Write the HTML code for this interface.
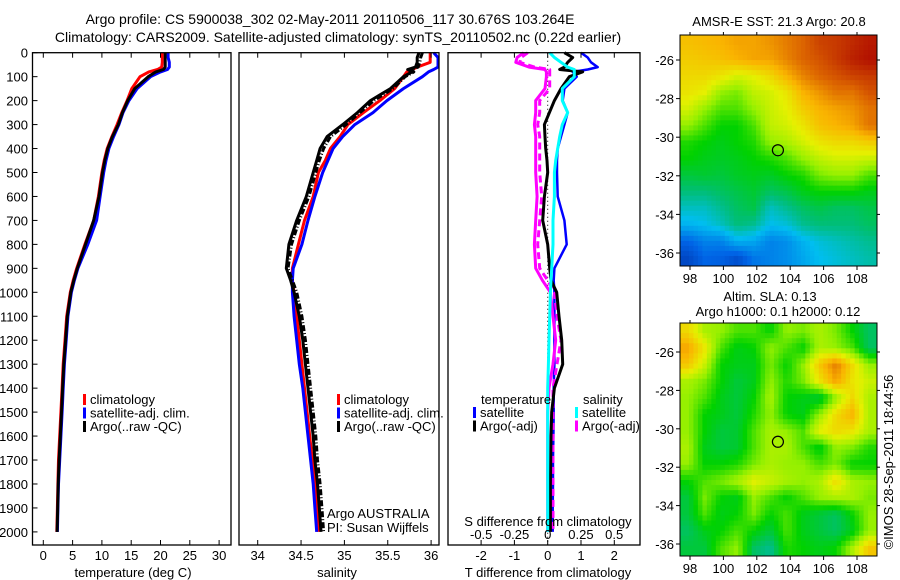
<!DOCTYPE html>
<html><head><meta charset="utf-8">
<style>
html,body{margin:0;padding:0;background:#fff;}
svg{display:block;font-family:"Liberation Sans",sans-serif;}
text{font-size:13px;fill:#000;}
</style></head>
<body>
<svg id="fig" width="900" height="580" viewBox="0 0 900 580" xmlns="http://www.w3.org/2000/svg">
<text x="330" y="24" text-anchor="middle" style="font-size:14px">Argo profile: CS 5900038_302 02-May-2011 20110506_117 30.676S 103.264E</text>
<text x="338" y="42" text-anchor="middle" style="font-size:14px">Climatology: CARS2009. Satellite-adjusted climatology: synTS_20110502.nc (0.22d earlier)</text>
<g id="p1"></g>
<g id="p2"></g>
<g id="p3"></g>
<g id="m1"></g>
<g id="m2"></g>
<text transform="translate(893,462) rotate(-90)" text-anchor="middle">©IMOS 28-Sep-2011 18:44:56</text>
</svg>
<script>
// ---------- data ----------
const depths = [0,20,40,60,70,80,100,150,200,250,300,350,400,450,500,600,700,800,900,950,1000,1100,1200,1300,1400,1500,1600,1700,1800,1900,2000];
const tempClim = [20.3,20.3,20.3,20.2,19.5,18,16.5,15.1,14.3,13.4,12.6,11.7,10.9,10.4,10.0,9.4,8.6,7.1,5.7,5.1,4.6,4.0,3.7,3.4,3.2,3.0,2.8,2.6,2.5,2.4,2.3];
const tempSat = [21.3,21.3,21.5,21.5,21.2,20,18.3,16,14.6,13.6,12.9,12.0,11.2,10.7,10.3,9.7,9.1,7.6,5.9,5.3,4.8,4.2,3.9,3.6,3.4,3.2,3.0,2.8,2.6,2.5,2.4];
const tempArgo = [20.8,20.8,20.8,20.8,20.5,19.2,17.9,15.6,14.4,13.5,12.8,11.8,11.0,10.5,10.1,9.5,8.6,7.2,5.8,5.2,4.7,4.1,3.8,3.5,3.3,3.1,2.9,2.7,2.55,2.45,2.35];
const salClim = [35.99,35.99,35.99,35.84,35.78,35.72,35.68,35.58,35.41,35.22,35.04,34.95,34.84,34.78,34.70,34.64,34.54,34.47,34.40,34.40,34.42,34.45,34.48,34.51,34.54,34.57,34.6,34.63,34.66,34.68,34.7];
const salSat = [36.03,36.08,36.08,36.08,36.03,35.97,35.9,35.68,35.49,35.33,35.12,34.98,34.87,34.81,34.75,34.66,34.58,34.51,34.41,34.40,34.40,34.42,34.45,34.48,34.52,34.55,34.58,34.61,34.64,34.66,34.68];
const salArgo = [35.86,35.84,35.84,35.82,35.73,35.78,35.68,35.53,35.3,35.15,34.98,34.8,34.72,34.68,34.64,34.56,34.45,34.36,34.33,34.38,34.42,34.48,34.52,34.55,34.58,34.61,34.64,34.66,34.69,34.71,34.73];
const salArgoRaw = [35.9,35.88,35.87,35.85,35.77,35.8,35.7,35.56,35.34,35.18,35.02,34.84,34.76,34.71,34.67,34.59,34.48,34.39,34.35,34.40,34.45,34.51,34.55,34.58,34.61,34.64,34.67,34.69,34.72,34.74,34.76];
const dTempSat = [1.0,1.2,1.3,1.5,1.2,0.75,0.87,0.5,0.45,0.6,0.5,0.4,0.3,0.28,0.28,0.3,0.5,0.57,0.2,0.18,0.2,0.2,0.2,0.2,0.18,0.18,0.17,0.16,0.16,0.15,0.15];
const dTempArgo = [0.5,0.75,0.6,0.5,0.36,1.05,0.65,0.4,0.2,0.05,-0.1,-0.08,-0.06,-0.02,0,-0.1,-0.15,0,0.06,0.1,0.27,0.34,0.42,0.45,0.2,0.12,0.1,0.09,0.08,0.08,0.08];
const dSalSat = [0.015,0.05,0.1,0.15,0.2,0.2,0.2,0.11,0.11,0.15,0.11,0.09,0.075,0.06,0.05,0.05,0.04,0.04,0.03,0.025,0.02,0.015,0.01,0.005,0,0,0,0,0,0,0];
const dSalArgo = [-0.15,-0.2,-0.21,-0.1,0.015,0.015,0.015,0.015,-0.06,-0.06,-0.075,-0.06,-0.06,-0.06,-0.06,-0.045,-0.06,-0.075,-0.06,0,0.05,0.07,0.1,0.07,0.04,0.04,0.04,0.04,0.04,0.04,0.04];
const dSalArgoRaw = [-0.18,-0.23,-0.24,-0.14,-0.02,-0.01,-0.01,-0.02,-0.09,-0.09,-0.1,-0.09,-0.09,-0.09,-0.09,-0.08,-0.09,-0.1,-0.09,-0.04,0.02,0.04,0.06,0.04,0.01,0,0,0,0,0,0];
const depthTicks = [0,100,200,300,400,500,600,700,800,900,1000,1100,1200,1300,1400,1500,1600,1700,1800,1900,2000];
const tempTicks = [0,5,10,15,20,25,30];
const salTicks = [34,34.5,35,35.5,36];
const dTempTicks = [-2,-1,0,1,2];
const dSalTicks = [-0.5,-0.25,0,0.25,0.5];
const dSalTickLabels = ['-0.5','-0.25','0','0.25','0.5'];
const lonTicks = [98,100,102,104,106,108];
const latTicks = [-26,-28,-30,-32,-34,-36];
const argoLon = 103.264, argoLat = -30.676;
// map fields (rows north->south, cols west->east), normalized colour values 0..1
const sstGrid = [
[0.76,0.77,0.78,0.8,0.8,0.82,0.85,0.88,0.92,0.93,0.95,0.97],
[0.74,0.75,0.76,0.78,0.8,0.8,0.84,0.88,0.9,0.93,0.96,0.98],
[0.72,0.72,0.7,0.66,0.68,0.72,0.78,0.84,0.88,0.9,0.92,0.93],
[0.7,0.68,0.6,0.58,0.64,0.66,0.7,0.78,0.82,0.86,0.86,0.9],
[0.66,0.6,0.55,0.55,0.6,0.65,0.68,0.74,0.78,0.8,0.82,0.86],
[0.6,0.55,0.5,0.5,0.55,0.64,0.66,0.7,0.76,0.78,0.8,0.86],
[0.52,0.5,0.48,0.5,0.52,0.6,0.62,0.66,0.7,0.72,0.72,0.74],
[0.5,0.48,0.47,0.48,0.5,0.52,0.55,0.6,0.64,0.66,0.66,0.65],
[0.45,0.46,0.45,0.47,0.48,0.47,0.5,0.52,0.58,0.6,0.6,0.55],
[0.4,0.4,0.42,0.44,0.46,0.42,0.44,0.48,0.5,0.5,0.5,0.48],
[0.34,0.34,0.38,0.42,0.44,0.34,0.38,0.42,0.44,0.42,0.42,0.44],
[0.28,0.3,0.34,0.4,0.38,0.3,0.32,0.38,0.4,0.4,0.4,0.42],
[0.15,0.2,0.2,0.28,0.26,0.2,0.22,0.28,0.32,0.34,0.36,0.38],
[0.08,0.15,0.14,0.1,0.18,0.2,0.22,0.26,0.3,0.32,0.34,0.36]];
const slaGrid = [
[0.72,0.62,0.6,0.55,0.55,0.5,0.6,0.58,0.62,0.58,0.5,0.42],
[0.8,0.7,0.55,0.48,0.5,0.6,0.55,0.5,0.62,0.6,0.55,0.42],
[0.75,0.65,0.5,0.48,0.48,0.58,0.5,0.6,0.75,0.85,0.72,0.6],
[0.62,0.58,0.5,0.45,0.48,0.6,0.52,0.58,0.7,0.8,0.7,0.65],
[0.6,0.55,0.48,0.45,0.5,0.62,0.5,0.48,0.45,0.6,0.72,0.62],
[0.6,0.5,0.48,0.45,0.52,0.6,0.5,0.48,0.6,0.72,0.78,0.62],
[0.6,0.5,0.45,0.46,0.55,0.62,0.6,0.55,0.68,0.72,0.7,0.62],
[0.62,0.48,0.45,0.46,0.55,0.62,0.62,0.55,0.48,0.6,0.58,0.52],
[0.6,0.5,0.5,0.52,0.58,0.62,0.6,0.6,0.55,0.58,0.5,0.5],
[0.5,0.55,0.58,0.62,0.68,0.65,0.62,0.6,0.62,0.72,0.62,0.6],
[0.45,0.58,0.5,0.48,0.6,0.55,0.5,0.55,0.6,0.62,0.62,0.58],
[0.45,0.55,0.48,0.5,0.58,0.5,0.55,0.48,0.45,0.42,0.5,0.6],
[0.42,0.48,0.5,0.55,0.5,0.45,0.55,0.48,0.45,0.42,0.48,0.6],
[0.45,0.45,0.55,0.6,0.42,0.38,0.52,0.5,0.48,0.5,0.62,0.75]];

// ---------- helpers ----------
const NS='http://www.w3.org/2000/svg';
function mk(parent,tag,attrs,txt){const e=document.createElementNS(NS,tag);for(const k in attrs)e.setAttribute(k,attrs[k]);if(txt!==undefined)e.textContent=txt;parent.appendChild(e);return e;}
const Y0=52.7, YK=0.2396, YB=545;
const yD = d => Y0 + d*YK;
function frame(g,x0,x1,name){
  const r=mk(g,'rect',{x:x0,y:Y0,width:x1-x0,height:YB-Y0,fill:'none',stroke:'#000','stroke-width':1.3});
  
  
}
function xTicks(g,sc,ticks,labels,ly,top,bottom){
  ticks.forEach((t,i)=>{
    const x=sc(t);
    if(bottom){const l=mk(g,'line',{x1:x,x2:x,y1:YB,y2:YB-5,stroke:'#000'});}
    if(top){const l=mk(g,'line',{x1:x,x2:x,y1:Y0,y2:Y0+5,stroke:'#000'});}
    const tx=mk(g,'text',{x:x,y:ly,'text-anchor':'middle'},labels?labels[i]:String(t));
    
    
  });
}
function line(g,xs,ys,color,w,dash,name){
  const pts=xs.map((v,i)=>xsFn(v).toFixed(1)+','+yD(ys[i]).toFixed(1));
  const p=mk(g,'polyline',{points:pts.join(' '),fill:'none',stroke:color,'stroke-width':w,'stroke-linejoin':'round'});
  if(dash)p.setAttribute('stroke-dasharray',dash);
  
  
}
let xsFn=null;
function series(g,sc,vals,color,w,dash,name){xsFn=sc;line(g,vals,depths,color,w,dash,name);}
function legend(g,x,y,items){
  items.forEach((it,i)=>{
    const r=mk(g,'rect',{x:x,y:y+i*13.5-10,width:3,height:11,fill:it[1]});
    
    
    const t=mk(g,'text',{x:x+7,y:y+i*13.5},it[0]);
    
    
  });
}

// ---------- panel 1: temperature ----------
const p1=document.getElementById('p1');
const xT = v => 43.3 + v*5.86;
depthTicks.forEach(d=>{
  const l=mk(p1,'line',{x1:32.5,x2:37.5,y1:yD(d),y2:yD(d),stroke:'#000'});
  
  
  const t=mk(p1,'text',{x:28,y:yD(d)+5,'text-anchor':'end'},String(d));
  
  
});
series(p1,xT,tempClim,'#ff0000',3,null,'temp-climatology-line');
series(p1,xT,tempSat,'#0000ff',3,null,'temp-satellite-line');
series(p1,xT,tempArgo,'#000000',3,null,'temp-argo-line');
frame(p1,32.5,231,'temperature-axes');
xTicks(p1,xT,tempTicks,null,560,true,true);
{const t=mk(p1,'text',{x:133,y:577,'text-anchor':'middle'},'temperature (deg C)');}
legend(p1,83,404,[['climatology','#ff0000'],['satellite-adj. clim.','#0000ff'],['Argo(..raw -QC)','#000000']]);

// ---------- panel 2: salinity ----------
const p2=document.getElementById('p2');
const xS = v => 257.7 + (v-34)*86.7;
series(p2,xS,salClim,'#ff0000',3,null,'sal-climatology-line');
series(p2,xS,salSat,'#0000ff',3,null,'sal-satellite-line');
series(p2,xS,salArgoRaw,'#000000',3,'6,2,1,2','sal-argo-raw-line');
series(p2,xS,salArgo,'#000000',3,null,'sal-argo-line');
frame(p2,239,439,'salinity-axes');
xTicks(p2,xS,salTicks,['34','34.5','35','35.5','36'],560,true,true);
{const t=mk(p2,'text',{x:337,y:577,'text-anchor':'middle'},'salinity');}
legend(p2,337,404,[['climatology','#ff0000'],['satellite-adj. clim.','#0000ff'],['Argo(..raw -QC)','#000000']]);
{const t=mk(p2,'text',{x:327,y:518},'Argo AUSTRALIA');}
{const t=mk(p2,'text',{x:327,y:532},'PI: Susan Wijffels');}

// ---------- panel 3: differences ----------
const p3=document.getElementById('p3');
const xdT = v => 547.7 + v*33.3;
const xdS = v => 547.7 + v*133;
{const l=mk(p3,'line',{x1:xdT(0),x2:xdT(0),y1:Y0,y2:YB,stroke:'#000','stroke-dasharray':'1,3'});}
series(p3,xdT,dTempSat,'#0000ff',2.5,null,'dtemp-satellite-line');
series(p3,xdS,dSalArgoRaw,'#ff00ff',3,null,'dsal-argo-raw-line');
series(p3,xdS,dSalArgo,'#ff00ff',3,'7,4','dsal-argo-line');
series(p3,xdT,dTempArgo,'#000000',3,null,'dtemp-argo-line');
series(p3,xdS,dSalSat,'#00ffff',3,null,'dsal-satellite-line');
frame(p3,448,640,'difference-axes');
xTicks(p3,xdT,dTempTicks,null,560,true,true);
{const t=mk(p3,'text',{x:548,y:577,'text-anchor':'middle'},'T difference from climatology');}
xTicks(p3,xdS,dSalTicks,dSalTickLabels,539,false,false);
{const t=mk(p3,'text',{x:548,y:526,'text-anchor':'middle'},'S difference from climatology');}
{const t=mk(p3,'text',{x:481,y:404},'temperature');}
{const t=mk(p3,'text',{x:583,y:404},'salinity');}
legend(p3,473,417,[['satellite','#0000ff'],['Argo(-adj)','#000000']]);
legend(p3,575,417,[['satellite','#00ffff'],['Argo(-adj)','#ff00ff']]);

// ---------- maps ----------
const stops=[[0,[0,40,160]],[0.15,[0,100,230]],[0.3,[0,190,240]],[0.4,[0,190,120]],[0.5,[0,210,0]],[0.6,[150,240,0]],[0.68,[230,240,0]],[0.78,[250,180,0]],[0.88,[220,100,0]],[1,[170,0,0]]];
function cmap(v){v=Math.max(0,Math.min(1,v));for(let i=1;i<stops.length;i++){if(v<=stops[i][0]){const a=stops[i-1],b=stops[i],f=(v-a[0])/(b[0]-a[0]);return 'rgb('+a[1].map((c,k)=>Math.round(c+(b[1][k]-c)*f)).join(',')+')';}}return 'rgb(170,0,0)';}
function sample(grid,r,c){const R=grid.length-1,C=grid[0].length-1;r=Math.max(0,Math.min(R,r));c=Math.max(0,Math.min(C,c));const r0=Math.floor(r),c0=Math.floor(c),r1=Math.min(R,r0+1),c1=Math.min(C,c0+1),fr=r-r0,fc=c-c0;return grid[r0][c0]*(1-fr)*(1-fc)+grid[r0][c1]*(1-fr)*fc+grid[r1][c0]*fr*(1-fc)+grid[r1][c1]*fr*fc;}
function drawMap(g,grid,x0,x1,y0,y1,lat26,lat36,titles){
  const lonX = lon => 690 + (lon-98)*16.7;
  const latY = lat => lat26 + (-26-lat)*(lat36-lat26)/10;
  const NX=44, NY=46, cw=(x1-x0)/NX, ch=(y1-y0)/NY;
  for(let j=0;j<NY;j++)for(let i=0;i<NX;i++){
    const v=sample(grid,(j+0.5)/NY*grid.length-0.5,(i+0.5)/NX*grid[0].length-0.5);
    const c=mk(g,'rect',{x:(x0+i*cw).toFixed(2),y:(y0+j*ch).toFixed(2),width:(cw+0.5).toFixed(2),height:(ch+0.5).toFixed(2),fill:cmap(v)});
    
    
  }
  const fr=mk(g,'rect',{x:x0,y:y0,width:x1-x0,height:y1-y0,fill:'none',stroke:'#000','stroke-width':1});
  
  
  lonTicks.forEach(l=>{
    const x=lonX(l);
    const tk=mk(g,'line',{x1:x,x2:x,y1:y1,y2:y1+4,stroke:'#000'});
    const tk2=mk(g,'line',{x1:x,x2:x,y1:y0,y2:y0-3,stroke:'#000'});
    const t=mk(g,'text',{x:x,y:y1+17,'text-anchor':'middle'},String(l));
  });
  latTicks.forEach(l=>{
    const y=latY(l);
    const tk=mk(g,'line',{x1:x0-4,x2:x0,y1:y,y2:y,stroke:'#000'});
    const tk2=mk(g,'line',{x1:x1,x2:x1+3,y1:y,y2:y,stroke:'#000'});
    const t=mk(g,'text',{x:x0-6,y:y+5,'text-anchor':'end'},String(l));
  });
  const m=mk(g,'circle',{cx:lonX(argoLon),cy:latY(argoLat),r:5.5,fill:'none',stroke:'#000','stroke-width':1.2});
  
  
  titles.forEach(tt=>{const t=mk(g,'text',{x:tt[1],y:tt[2],'text-anchor':'middle'},tt[0]);});
}
drawMap(document.getElementById('m1'),sstGrid,680,877,35,266,60,253,[['AMSR-E SST: 21.3 Argo: 20.8',779,26]]);
drawMap(document.getElementById('m2'),slaGrid,680,877,323,556,352,544,[['Altim. SLA: 0.13',770,301],['Argo h1000: 0.1 h2000: 0.12',778,316]]);
</script>
</body></html>
